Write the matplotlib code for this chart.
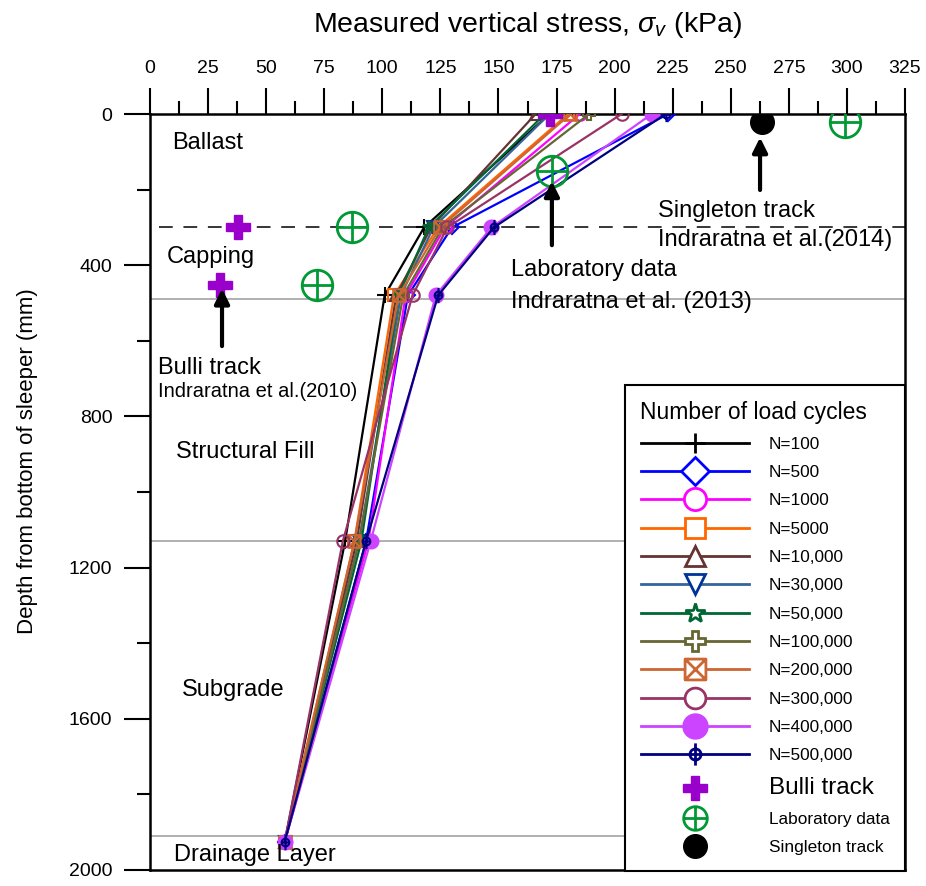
import matplotlib
matplotlib.use("Agg")
import matplotlib.pyplot as plt
from matplotlib.lines import Line2D
from matplotlib.path import Path
import numpy as np

plt.rcParams['font.family'] = ['Liberation Sans', 'DejaVu Sans']
plt.rcParams['mathtext.fontset'] = 'custom'
plt.rcParams['mathtext.rm'] = 'Liberation Sans'
plt.rcParams['mathtext.it'] = 'Liberation Sans:italic'

# ---------------- data ----------------
depths = [0, 300, 480, 1130, 1925]
labels = ["N=100", "N=500", "N=1000", "N=5000", "N=10,000", "N=30,000",
          "N=50,000", "N=100,000", "N=200,000", "N=300,000", "N=400,000", "N=500,000"]
n100 = [172, 118, 101, 84, 58]
n500 = [223, 130, 111, 93, 58]
n1000 = [185, 127, 110, 94, 58]
n5000 = [180, 124, 105, 88, 58]
n10000 = [166, 121, 106, 89, 58]
n30000 = [172, 122, 108, 90, 58]
n50000 = [170, 120, 107, 91, 58]
n100000 = [189, 126, 109, 90, 58]
n200000 = [181, 125, 107, 88, 58]
n300000 = [203, 128, 113, 83, 58]
n400000 = [216, 147, 123, 95, 58]
n500000 = [222, 148, 124, 93, 58]
series = [n100, n500, n1000, n5000, n10000, n30000, n50000, n100000,
          n200000, n300000, n400000, n500000]

bulli_x = [172, 38, 30]
bulli_d = [0, 300, 452]
lab_x = [299, 173, 87, 72]
lab_d = [21, 151, 300, 452]
single_x = [263.5]
single_d = [21]

layer_names = ["Ballast", "Capping", "Structural Fill", "Subgrade", "Drainage Layer"]

# ---------------- markers ----------------
sq = Path([(-1, -1), (1, -1), (1, 1), (-1, 1), (-1, -1), (-1, -1), (1, 1), (-1, 1), (1, -1)],
          [Path.MOVETO, Path.LINETO, Path.LINETO, Path.LINETO, Path.CLOSEPOLY,
           Path.MOVETO, Path.LINETO, Path.MOVETO, Path.LINETO])
circ = Path.unit_circle()
cross_in = Path([(-1, 0), (1, 0), (0, -1), (0, 1)],
                [Path.MOVETO, Path.LINETO, Path.MOVETO, Path.LINETO])
oplus = Path.make_compound_path(circ, cross_in)
small_c = Path(circ.vertices * 0.5, circ.codes)
cross_long = Path([(-0.5, 0), (0.5, 0), (0, -1), (0, 1)],
                  [Path.MOVETO, Path.LINETO, Path.MOVETO, Path.LINETO])
navy_m = Path.make_compound_path(small_c, cross_long)

# (line colour, marker, marker edge colour, filled, plot ms, legend ms)
styles = [
    ("#000000", "+", "#000000", False, 12, 14),
    ("#0000FF", "D", "#0000FF", False, 7, 14),
    ("#FF00FF", "o", "#FF00FF", False, 9, 16),
    ("#FF6600", "s", "#FF6600", False, 8, 15),
    ("#663333", "^", "#663333", False, 8, 15),
    ("#336699", "v", "#003399", False, 8, 15),
    ("#006633", "*", "#006633", False, 9, 15),
    ("#666633", "P", "#666633", False, 9, 15),
    ("#CC6633", sq, "#CC6633", False, 9, 15),
    ("#993366", "o", "#993366", False, 9, 15),
    ("#CC44FF", "o", "#CC44FF", True, 10, 17),
    ("#000080", navy_m, "#000080", False, 11, 16),
]

fig = plt.figure(figsize=(9.26, 8.86), dpi=100)
ax = fig.add_axes([150 / 926, 16 / 886, 755 / 926, 756 / 886])

for vals, lab, (lc, m, mec, filled, ms, lms) in zip(series, labels, styles):
    ax.plot(vals, depths, color=lc, lw=1.6, marker=m, ms=ms, mec=mec,
            mfc=(mec if filled else 'none'), mew=1.5, zorder=3)

ax.plot(bulli_x, bulli_d, ls='none', marker='P', ms=17, color='#9900CC', mec='#9900CC', zorder=5)
ax.plot(lab_x, lab_d, ls='none', marker=oplus, ms=22, mfc='none', mec='#009933', mew=2, zorder=5)
ax.plot(single_x, single_d, ls='none', marker='o', ms=17, color='black', zorder=5)

# layer boundaries
ax.plot([4, 325], [300, 300], color='black', lw=1.1, dashes=(9, 7), zorder=1)
ax.plot([0, 325], [490, 490], color='#b0b0b0', lw=1.4, zorder=1)
ax.plot([0, 211], [1130, 1130], color='#b0b0b0', lw=1.4, zorder=1)
ax.plot([0, 205], [1910, 1910], color='#b0b0b0', lw=1.4, zorder=1)

# layer labels
fs = 17
layer_pos = [(9.5, 77), (7.3, 378), (11.2, 894), (13.8, 1524), (10.3, 1960)]
for name, (x, y) in zip(layer_names, layer_pos):
    ax.text(x, y, name, fontsize=fs, ha='left', va='center')

# annotations
ap = dict(arrowstyle='-|>', lw=3, color='black', mutation_scale=22, shrinkA=0, shrinkB=0)
ax.annotate('', xy=(31, 462), xytext=(31, 614), arrowprops=ap, zorder=6)
ax.text(3.4, 672, "Bulli track", fontsize=17, ha='left', va='center')
ax.text(3.4, 735, "Indraratna et al.(2010)", fontsize=14.5, ha='left', va='center')

ax.annotate('', xy=(173, 178), xytext=(173, 347), arrowprops=ap, zorder=6)
ax.text(155.4, 413, "Laboratory data", fontsize=17, ha='left', va='center')
ax.text(155.4, 497, "Indraratna et al. (2013)", fontsize=17, ha='left', va='center')

ax.annotate('', xy=(262.6, 62), xytext=(262.6, 201), arrowprops=ap, zorder=6)
ax.text(218.7, 257, "Singleton track", fontsize=17, ha='left', va='center')
ax.text(218.7, 333, "Indraratna et al.(2014)", fontsize=17, ha='left', va='center')

# axes
ax.set_xlim(0, 325)
ax.set_ylim(2000, 0)
ax.xaxis.tick_top()
ax.xaxis.set_label_position('top')
ax.set_xticks(np.arange(0, 326, 25))
ax.set_xticks(np.arange(12.5, 325, 25), minor=True)
ax.set_yticks(np.arange(0, 2001, 400))
ax.set_yticks(np.arange(200, 2000, 400), minor=True)
ax.tick_params(axis='both', which='major', direction='out', length=19, width=1.5,
               labelsize=14, color='black')
ax.tick_params(axis='both', which='minor', direction='out', length=9.5, width=1.5)
ax.tick_params(axis='x', which='major', pad=8)
ax.tick_params(axis='y', which='major', pad=8)
for s in ax.spines.values():
    s.set_linewidth(1.8)

ax.set_xlabel(r"Measured vertical stress, $\sigma_v$ (kPa)", fontsize=20.5, labelpad=20)
ax.set_ylabel("Depth from bottom of sleeper (mm)", fontsize=16)
ax.yaxis.set_label_coords(-112 / 755, 1 - (461 - 114) / 756)

# legend with proxy handles
handles = []
for lab, (lc, m, mec, filled, ms, lms) in zip(labels, styles):
    handles.append(Line2D([], [], color=lc, lw=2, marker=m, ms=lms, mec=mec,
                          mfc=(mec if filled else 'white'), mew=2))
handles.append(Line2D([], [], ls='none', marker='P', ms=17, color='#9900CC'))
handles.append(Line2D([], [], ls='none', marker=oplus, ms=17, mfc='white', mec='#009933', mew=2))
handles.append(Line2D([], [], ls='none', marker='o', ms=17, color='black'))
leg_labels = labels + ["Bulli track", "Laboratory data", "Singleton track"]

leg = ax.legend(handles, leg_labels, loc='upper left',
                bbox_to_anchor=((625 - 150) / 755, (870 - 385) / 756),
                borderaxespad=0, fontsize=12.4, title="Number of load cycles",
                title_fontsize=16.5, alignment='left', handlelength=6.3,
                handletextpad=1.16, labelspacing=0.77, borderpad=0.9,
                fancybox=False, framealpha=1, edgecolor='black')
leg.get_frame().set_linewidth(1.5)
leg.get_texts()[12].set_fontsize(17.5)

fig.savefig("out.png", dpi=100)
